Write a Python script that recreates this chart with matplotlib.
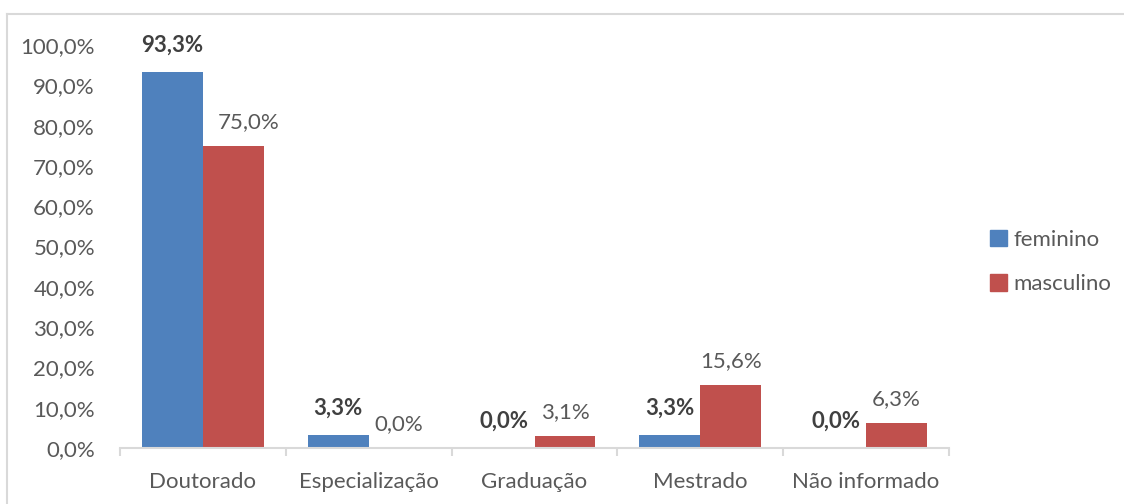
import matplotlib.pyplot as plt
from matplotlib.lines import Line2D
from matplotlib.patches import Patch
import numpy as np

categories = ["Doutorado", "Especialização", "Graduação", "Mestrado", "Não informado"]
feminino = [93.3, 3.3, 0.0, 3.3, 0.0]
masculino = [75.0, 0.0, 3.1, 15.6, 6.3]
yticks = [0, 10, 20, 30, 40, 50, 60, 70, 80, 90, 100]

BLUE = "#4F81BD"
RED = "#C0504D"
TEXT = "#595959"
AXIS = "#D9D9D9"
FS = 16

plt.rcParams["font.family"] = ["Lato", "DejaVu Sans"]


def pct(v):
    return f"{v:.1f}%".replace(".", ",")


fig = plt.figure(figsize=(11.24, 5.04), dpi=100)
ax = fig.add_axes([120 / 1124, 1 - 448 / 504, 829 / 1124, 403 / 504])

x = np.arange(len(categories))
w = 0.367
ax.bar(x - w / 2, feminino, w, color=BLUE, label="feminino")
ax.bar(x + w / 2, masculino, w, color=RED, label="masculino")

for i, (f, m) in enumerate(zip(feminino, masculino)):
    ax.annotate(pct(f), (x[i] - w / 2, f), xytext=(0, 19), textcoords="offset points",
                ha="center", va="center", fontsize=FS, fontweight="bold", color="#404040")
    dx = 11 if i == 0 else 0
    ax.annotate(pct(m), (x[i] + w / 2, m), xytext=(dx, 17), textcoords="offset points",
                ha="center", va="center", fontsize=FS, color=TEXT)

ax.set_xlim(-0.5, len(categories) - 0.5)
ax.set_ylim(0, 100)
ax.set_yticks(yticks)
ax.set_yticklabels([pct(v) for v in yticks])
ax.tick_params(axis="y", length=0, pad=18, labelsize=FS, labelcolor=TEXT)

ax.set_xticks(np.arange(len(categories) + 1) - 0.5)
ax.set_xticklabels([])
ax.set_xticks(x, minor=True)
ax.set_xticklabels(categories, minor=True)
ax.tick_params(axis="x", which="major", length=6, width=1.5, color=AXIS, direction="out")
ax.tick_params(axis="x", which="minor", length=0, pad=17, labelsize=FS, labelcolor=TEXT)

for side in ["top", "right", "left"]:
    ax.spines[side].set_visible(False)
ax.spines["bottom"].set_color(AXIS)
ax.spines["bottom"].set_linewidth(1.5)

handles = [Patch(color=BLUE), Patch(color=RED)]
fig.legend(handles, ["feminino", "masculino"], loc="center left",
           bbox_to_anchor=(979 / 1124, 1 - 262 / 504), frameon=False,
           fontsize=FS, labelcolor=TEXT, handlelength=0.75, handleheight=0.75,
           handletextpad=0.3, labelspacing=1.1, borderpad=0)

# outer chart frame (runs off the right and bottom edges)
fig.add_artist(Line2D([7 / 1124, 7 / 1124], [0, 1 - 14 / 504], color=AXIS, lw=1.5))
fig.add_artist(Line2D([7 / 1124, 1], [1 - 14 / 504, 1 - 14 / 504], color=AXIS, lw=1.5))

fig.savefig("out.png", dpi=100)
